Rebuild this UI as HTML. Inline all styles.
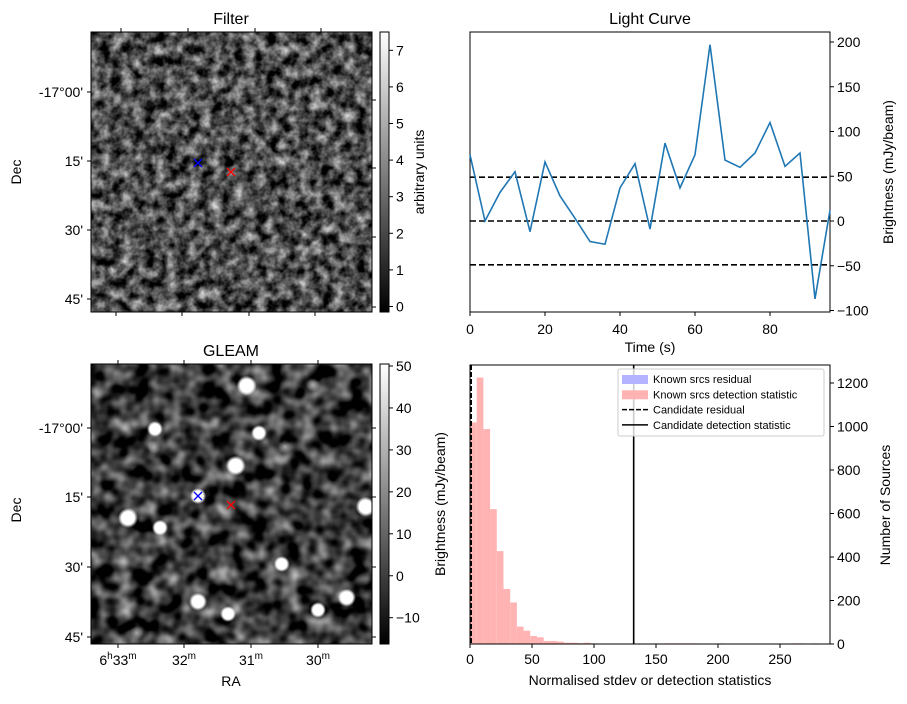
<!DOCTYPE html>
<html><head><meta charset="utf-8"><style>
body{margin:0;background:#fff;}
svg text{font-family:"Liberation Sans","DejaVu Sans",sans-serif;fill:#000;}
</style></head><body>
<svg id="fig" width="907" height="699" xmlns="http://www.w3.org/2000/svg">
<defs>
<filter id="noiseF" x="0" y="0" width="100%" height="100%" color-interpolation-filters="sRGB">
<feTurbulence type="fractalNoise" baseFrequency="0.09" numOctaves="3" seed="4"/>
<feColorMatrix type="matrix" values="1 0 0 0 0 1 0 0 0 0 1 0 0 0 0 0 0 0 0 1"/>
<feComponentTransfer><feFuncR type="linear" slope="1.3" intercept="-0.34"/><feFuncG type="linear" slope="1.3" intercept="-0.34"/><feFuncB type="linear" slope="1.3" intercept="-0.34"/><feFuncA type="linear" slope="0" intercept="1"/></feComponentTransfer>
</filter>
<filter id="noiseG" x="0" y="0" width="100%" height="100%" color-interpolation-filters="sRGB">
<feTurbulence type="fractalNoise" baseFrequency="0.06" numOctaves="2" seed="11"/>
<feColorMatrix type="matrix" values="1 0 0 0 0 1 0 0 0 0 1 0 0 0 0 0 0 0 0 1"/>
<feComponentTransfer><feFuncR type="linear" slope="1.3" intercept="-0.42"/><feFuncG type="linear" slope="1.3" intercept="-0.42"/><feFuncB type="linear" slope="1.3" intercept="-0.42"/><feFuncA type="linear" slope="0" intercept="1"/></feComponentTransfer>
</filter>
<radialGradient id="blob"><stop offset="0" stop-color="#fff"/><stop offset="0.65" stop-color="#fff"/><stop offset="1" stop-color="#fff" stop-opacity="0"/></radialGradient>
<radialGradient id="fblob"><stop offset="0" stop-color="#aaa"/><stop offset="1" stop-color="#aaa" stop-opacity="0"/></radialGradient>
<linearGradient id="cbar" x1="0" y1="1" x2="0" y2="0"><stop offset="0" stop-color="#000"/><stop offset="1" stop-color="#fff"/></linearGradient>
<clipPath id="clipG"><rect x="91" y="364" width="281" height="280"/></clipPath>
</defs>

<g>
<text x="231" y="24" font-size="16" text-anchor="middle">Filter</text>
<rect x="91" y="32" width="281" height="280" fill="#555" filter="url(#noiseF)"/>
<rect x="91" y="32" width="281" height="280" fill="none" stroke="#000" stroke-width="1"/>
<g stroke="#000" stroke-width="1">
<line x1="87" y1="92" x2="91" y2="92"/><line x1="87" y1="161" x2="91" y2="161"/><line x1="87" y1="230" x2="91" y2="230"/><line x1="87" y1="299" x2="91" y2="299"/>
<line x1="121" y1="28" x2="121" y2="32"/><line x1="188" y1="28" x2="188" y2="32"/><line x1="255" y1="28" x2="255" y2="32"/><line x1="321" y1="28" x2="321" y2="32"/>
<line x1="116" y1="312" x2="116" y2="316"/><line x1="182" y1="312" x2="182" y2="316"/><line x1="249" y1="312" x2="249" y2="316"/><line x1="315" y1="312" x2="315" y2="316"/>
<line x1="372" y1="100" x2="376" y2="100"/><line x1="372" y1="168" x2="376" y2="168"/><line x1="372" y1="237" x2="376" y2="237"/><line x1="372" y1="307" x2="376" y2="307"/>
</g>
<g font-size="14" text-anchor="end">
<text x="83" y="97">-17°00'</text><text x="83" y="166">15'</text><text x="83" y="235">30'</text><text x="83" y="304">45'</text>
</g>
<text transform="translate(21,172) rotate(-90)" font-size="14" text-anchor="middle">Dec</text>
<path d="M194,159 L202,167 M202,159 L194,167" stroke="#00f" stroke-width="1.3"/>
<path d="M227,168 L235,176 M235,168 L227,176" stroke="#f00" stroke-width="1.3"/>
<rect x="380" y="32" width="9" height="280" fill="url(#cbar)" stroke="#000" stroke-width="1"/>
<g id="cbF"></g>
<text transform="translate(424,172) rotate(-90)" font-size="14" text-anchor="middle">arbitrary units</text>
</g>

<g>
<text x="231" y="356" font-size="16" text-anchor="middle">GLEAM</text>
<g clip-path="url(#clipG)">
<rect x="91" y="364" width="281" height="280" fill="#333" filter="url(#noiseG)"/>
<g id="srcs"></g>
</g>
<rect x="91" y="364" width="281" height="280" fill="none" stroke="#000" stroke-width="1"/>
<g stroke="#000" stroke-width="1">
<line x1="87" y1="428" x2="91" y2="428"/><line x1="87" y1="497" x2="91" y2="497"/><line x1="87" y1="567" x2="91" y2="567"/><line x1="87" y1="637" x2="91" y2="637"/>
<line x1="118" y1="644" x2="118" y2="648"/><line x1="184" y1="644" x2="184" y2="648"/><line x1="251" y1="644" x2="251" y2="648"/><line x1="318" y1="644" x2="318" y2="648"/>
<line x1="118" y1="360" x2="118" y2="364"/><line x1="184" y1="360" x2="184" y2="364"/><line x1="251" y1="360" x2="251" y2="364"/><line x1="318" y1="360" x2="318" y2="364"/>
<line x1="372" y1="428" x2="376" y2="428"/><line x1="372" y1="497" x2="376" y2="497"/><line x1="372" y1="567" x2="376" y2="567"/><line x1="372" y1="637" x2="376" y2="637"/>
</g>
<g font-size="14" text-anchor="end">
<text x="83" y="433">-17°00'</text><text x="83" y="502">15'</text><text x="83" y="572">30'</text><text x="83" y="642">45'</text>
</g>
<g font-size="14" text-anchor="middle">
<text x="118" y="665">6<tspan font-size="10" dy="-6">h</tspan><tspan dy="6">33</tspan><tspan font-size="10" dy="-6">m</tspan></text>
<text x="184" y="665">32<tspan font-size="10" dy="-6">m</tspan></text>
<text x="251" y="665">31<tspan font-size="10" dy="-6">m</tspan></text>
<text x="318" y="665">30<tspan font-size="10" dy="-6">m</tspan></text>
</g>
<text x="231" y="686" font-size="14" text-anchor="middle">RA</text>
<text transform="translate(21,510) rotate(-90)" font-size="14" text-anchor="middle">Dec</text>
<path d="M194,492 L202,500 M202,492 L194,500" stroke="#00f" stroke-width="1.3"/>
<path d="M227,501 L235,509 M235,501 L227,509" stroke="#f00" stroke-width="1.3"/>
<rect x="380" y="364" width="9" height="280" fill="url(#cbar)" stroke="#000" stroke-width="1"/>
<g id="cbG"></g>
<text transform="translate(445,504) rotate(-90)" font-size="14" text-anchor="middle">Brightness (mJy/beam)</text>
</g>

<g id="lc">
<text x="650" y="24" font-size="16" text-anchor="middle">Light Curve</text>
<text x="650" y="352" font-size="14" text-anchor="middle">Time (s)</text>
<text transform="translate(893,172) rotate(-90)" font-size="14" text-anchor="middle">Brightness (mJy/beam)</text>
</g>

<g id="hist">
<text x="650" y="685" font-size="14" text-anchor="middle">Normalised stdev or detection statistics</text>
<text transform="translate(890,505) rotate(-90)" font-size="14" text-anchor="middle">Number of Sources</text>
</g>
</svg>
<script>
const lcTimes=[0,4,8,12,16,20,24,28,32,36,40,44,48,52,56,60,64,68,72,76,80,84,88,92,96];
const lcValues=[74,0,32,55,-12,66,28,3,-23,-26,37,64,-9,87,37,74,197,68,60,76,110,61,76,-87,12];
const lcThresholds=[49,0,-49];
const lcYTicks=[-100,-50,0,50,100,150,200];
const lcXTicks=[0,20,40,60,80];
const histCounts=[1019,1225,988,620,427,253,191,80,61,37,31,14,14,11,6,6,4,6,3,2,2,2,2,2,2,2,2,2,0,3,3,3,3,3,0,0,0,3,0,0,0,0,0,0,0,0,0,0,3,3,0,3,0];
const histBinWidth=5.4;
const candResidual=1;
const candDetection=132;
const histXTicks=[0,50,100,150,200,250];
const histYTicks=[0,200,400,600,800,1000,1200];
const filterCbTicks=[0,1,2,3,4,5,6,7];
const gleamCbTicks=[-10,0,10,20,30,40,50];
const srcX=[246.7,155,259,154,235.7,198,128,160,365.7,281.7,346.7,198,228,318,136.7,313,285];
const srcY=[385.7,429,433,447,465.7,496,518,527.7,506.7,564,597.7,601.7,614,610,633,385,447];
const srcR=[10,8,8,7,10,8,10,8,10,8,9,9,8,8,7,7,7];
const srcBright=[1,1,1,0,1,1,1,1,1,1,1,1,1,1,0,0,0];

const NS="http://www.w3.org/2000/svg";
function mk(tag,attrs,parent){const e=document.createElementNS(NS,tag);for(const k in attrs)e.setAttribute(k,attrs[k]);parent.appendChild(e);return e;}

const cbF=document.getElementById('cbF');
const fY=v=>312-(v+0.15)*(280/7.65);
filterCbTicks.forEach(v=>{const y=fY(v);mk('line',{x1:389,y1:y,x2:393,y2:y,stroke:'#000'},cbF);const t=mk('text',{x:396,y:y+5,'font-size':14},cbF);t.textContent=v;});
const cbG=document.getElementById('cbG');
const gY=v=>366+(50-v)*(251.7/60);
gleamCbTicks.forEach(v=>{const y=gY(v);mk('line',{x1:389,y1:y,x2:393,y2:y,stroke:'#000'},cbG);const t=mk('text',{x:396,y:y+5,'font-size':14},cbG);t.textContent=v<0?'\u2212'+(-v):v;});

const sg=document.getElementById('srcs');
srcX.forEach((x,i)=>{const c=mk('circle',{cx:x,cy:srcY[i],r:srcR[i],fill:srcBright[i]?'url(#blob)':'url(#fblob)'},sg);

});

const lc=document.getElementById('lc');
const L={x0:470,x1:830,y0:32,y1:312};
const lx=t=>L.x0+t*(360/96);
const ly=v=>221-v*0.895;
mk('rect',{x:L.x0,y:L.y0,width:360,height:280,fill:'none',stroke:'#000'},lc);
lcThresholds.forEach(v=>{const l=mk('line',{x1:L.x0,x2:L.x1,y1:ly(v),y2:ly(v),stroke:'#000','stroke-width':1.6,'stroke-dasharray':'6,3'},lc);

});
const pl=mk('polyline',{points:lcTimes.map((t,i)=>lx(t)+','+ly(lcValues[i])).join(' '),fill:'none',stroke:'#1f77b4','stroke-width':1.6},lc);


lcYTicks.forEach(v=>{const y=ly(v);mk('line',{x1:830,x2:834,y1:y,y2:y,stroke:'#000'},lc);const t=mk('text',{x:837,y:y+5,'font-size':14},lc);t.textContent=v<0?'\u2212'+(-v):v;});
lcXTicks.forEach(v=>{const x=lx(v);mk('line',{x1:x,x2:x,y1:312,y2:316,stroke:'#000'},lc);const t=mk('text',{x:x,y:334,'font-size':14,'text-anchor':'middle'},lc);t.textContent=v;});

const h=document.getElementById('hist');
const hx=v=>470+v*1.24;
const hy=c=>644-c*0.2175;
histCounts.forEach((c,i)=>{if(!c)return;const x0=hx(i*histBinWidth),x1=hx((i+1)*histBinWidth);
const r=mk('rect',{x:x0,y:hy(c),width:x1-x0,height:644-hy(c),fill:'#ffb3b3'},h);

});
const cr=mk('line',{x1:hx(candResidual),x2:hx(candResidual),y1:365,y2:644,stroke:'#000','stroke-width':1.5,'stroke-dasharray':'5,2'},h);


const cd=mk('line',{x1:hx(candDetection),x2:hx(candDetection),y1:365,y2:644,stroke:'#000','stroke-width':1.6},h);


mk('rect',{x:470,y:365,width:360,height:279,fill:'none',stroke:'#000'},h);
histXTicks.forEach(v=>{const x=hx(v);mk('line',{x1:x,x2:x,y1:644,y2:648,stroke:'#000'},h);const t=mk('text',{x:x,y:664,'font-size':14,'text-anchor':'middle'},h);t.textContent=v;});
histYTicks.forEach(v=>{const y=hy(v);mk('line',{x1:830,x2:834,y1:y,y2:y,stroke:'#000'},h);const t=mk('text',{x:837,y:y+5,'font-size':14},h);t.textContent=v;});
const lg=mk('g',{},h);


mk('rect',{x:618,y:369,width:206,height:67,fill:'#fff','fill-opacity':0.8,stroke:'#ccc',rx:2},lg);
const items=[['Known srcs residual','patch','#b3b3ff'],['Known srcs detection statistic','patch','#ffb3b3'],['Candidate residual','dash','#000'],['Candidate detection statistic','line','#000']];
items.forEach((it,i)=>{const y=379+i*15.3;
if(it[1]==='patch')mk('rect',{x:622,y:y-4,width:26,height:9,fill:it[2]},lg);
else mk('line',{x1:622,x2:648,y1:y,y2:y,stroke:'#000','stroke-width':1.5,'stroke-dasharray':it[1]==='dash'?'5,2':''},lg);
const t=mk('text',{x:653,y:y+4,'font-size':11},lg);t.textContent=it[0];

});
</script>
</body></html>
